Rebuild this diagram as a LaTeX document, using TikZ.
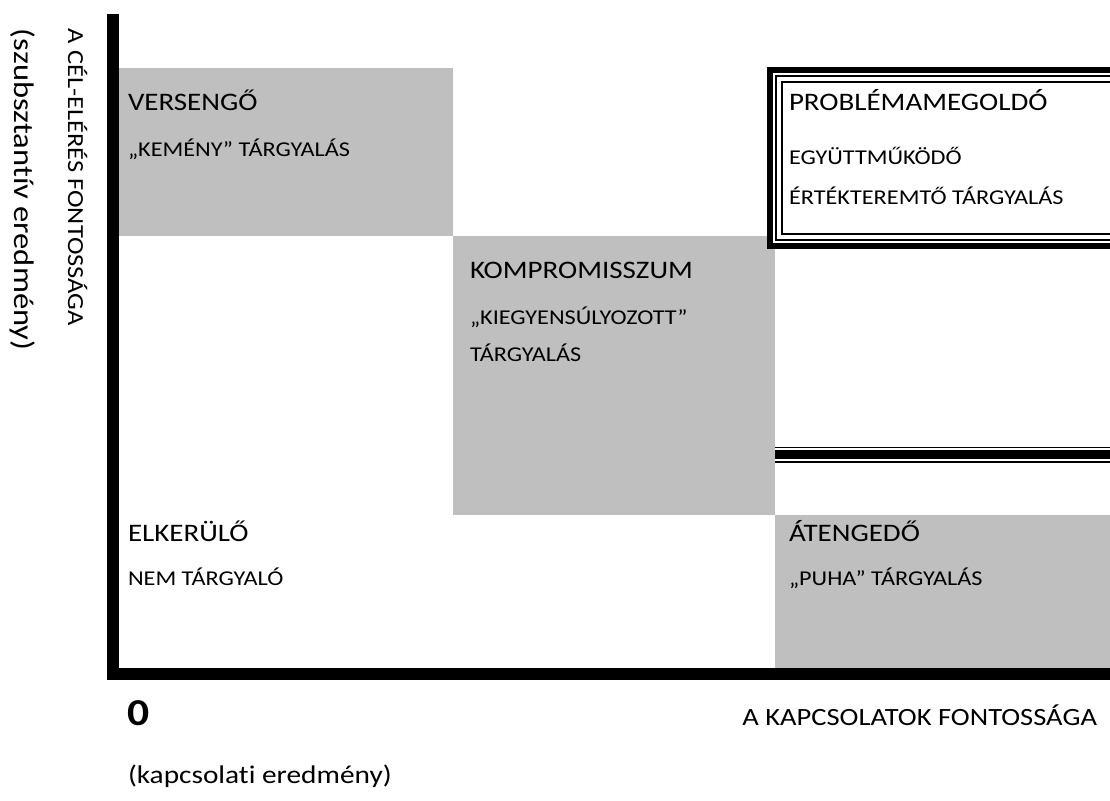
\documentclass[tikz,border=0pt]{standalone}
\usepackage{fontspec}
\setmainfont{Carlito}[FakeStretch=1.15, Ligatures=CommonOff]
\definecolor{boxgray}{HTML}{BFBFBF}

\begin{document}
\begin{tikzpicture}[x=1pt,y=-1pt,
  every node/.style={inner sep=0pt, outer sep=0pt, anchor=base west},
  title/.style={font=\fontsize{25.2}{28}\selectfont},
  note/.style={font=\fontsize{21.1}{24}\selectfont},
  axis/.style={font=\fontsize{24.8}{28}\selectfont}]
\useasboundingbox (0,0) rectangle (1110,800);
\clip (0,0) rectangle (1110,800);

% gray fields
\fill[boxgray] (119,68) rectangle (453,236);
\fill[boxgray] (453,236) rectangle (775,515);
\fill[boxgray] (775,515) rectangle (1110,668);

% framed field, thick-thin border
\fill[black] (767,67) rectangle (1120,249.3);
\fill[white] (773,73) rectangle (1120,243.3);
\fill[black] (775,75) rectangle (1120,241.3);
\fill[white] (777,77) rectangle (1120,239.3);
\fill[black] (781,81) rectangle (1120,235.3);
\fill[white] (783,83) rectangle (1120,233.3);

% triple rule
\fill (775,446.7) rectangle (1110,448.3);
\fill (775,450) rectangle (1110,459);
\fill (775,460.7) rectangle (1110,462.7);

% axes
\fill (107,14) rectangle (119,680);
\fill (107,668) rectangle (1110,680);

\node[title] (verseng) at (128,110.7) {VERSENGŐ};
\node[note] (kemeny) at (128,156) {„KEMÉNY” TÁRGYALÁS};

\node[title] (kompr) at (470,278.3) {KOMPROMISSZUM};
\node[note] (kiegy) at (470,324) {„KIEGYENSÚLYOZOTT”};
\node[note] (kiegy2) at (470,361.7) {TÁRGYALÁS};

\node[title] (probl) at (789,110.7) {PROBLÉMAMEGOLDÓ};
\node[note] (egyutt) at (789,164) {EGYÜTTMŰKÖDŐ};
\node[note] (ertek) at (789,204) {ÉRTÉKTEREMTŐ TÁRGYALÁS};

\node[title] (elker) at (128,541) {ELKERÜLŐ};
\node[note] (nemt) at (128,585.3) {NEM TÁRGYALÓ};

\node[title] (ateng) at (789,541) {ÁTENGEDŐ};
\node[note] (puha) at (789,585.3) {„PUHA” TÁRGYALÁS};

\node[font=\fontsize{38}{44}\selectfont\bfseries] (zero) at (127,725) {0};
\node[axis, anchor=base east] (xlab) at (1097,725) {A KAPCSOLATOK FONTOSSÁGA};
\node[font=\fontsize{25.5}{29}\selectfont] (xsub) at (128,783) {(kapcsolati eredmény)};

\node[font=\fontsize{23}{27}\selectfont, rotate=-90] (ylab) at (68,29) {A CÉL-ELÉRÉS FONTOSSÁGA};
\node[font=\fontsize{28.3}{32}\selectfont, rotate=-90] (ysub) at (14,29) {(szubsztantív eredmény)};
\end{tikzpicture}
\end{document}
